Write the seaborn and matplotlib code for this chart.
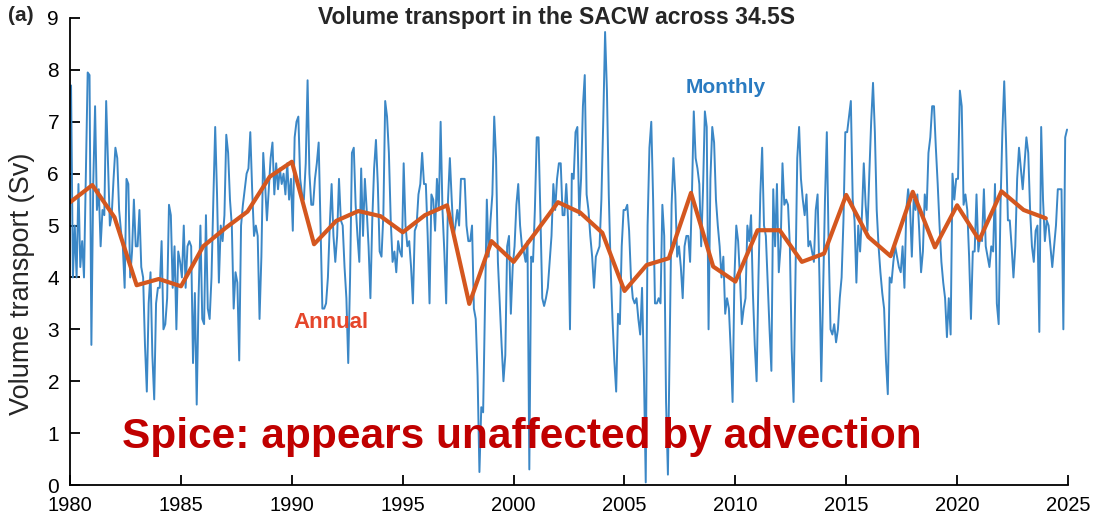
import numpy as np
import pandas as pd
import seaborn as sns
import matplotlib.pyplot as plt

# monthly volume transport (Sv), Jan..Dec for each year
monthly_1980s = [
    7.7, 4.0, 5.0, 4.0, 5.8, 4.2, 4.7, 4.0, 6.0, 7.95, 7.9, 2.7,
    5.8, 7.3, 5.3, 5.7, 4.6, 5.3, 5.2, 7.4, 6.2, 5.0, 5.2, 5.9,
    6.5, 6.3, 5.3, 4.9, 4.6, 3.8, 5.9, 5.8, 4.0, 4.5, 5.5, 4.6,
    4.6, 5.3, 4.2, 4.0, 2.7, 1.8, 3.5, 4.1, 2.5, 1.65, 3.5, 3.8,
    3.8, 4.7, 3.0, 3.1, 3.6, 5.4, 5.2, 3.8, 4.6, 3.0, 4.5, 4.3,
    4.0, 5.0, 3.8, 4.6, 4.7, 4.6, 2.35, 3.7, 1.55, 3.6, 5.0, 3.2,
    3.1, 5.2, 3.4, 3.2, 4.0, 5.5, 6.9, 5.6, 3.9, 5.0, 4.7, 5.2,
    6.75, 6.4, 5.5, 5.0, 3.4, 4.1, 3.9, 2.4, 5.0, 5.4, 5.7, 6.0,
    6.1, 6.8, 5.7, 4.8, 5.0, 4.8, 3.2, 4.4, 6.4, 5.8, 5.1, 5.7,
    6.3, 6.6, 5.6, 6.2, 5.7, 6.1, 5.8, 6.0, 5.6, 6.2, 5.5, 5.9,
]
monthly_1990s = [
    4.9, 6.7, 7.0, 7.1, 5.9, 5.6, 5.5, 6.2, 7.8, 6.0, 5.4, 5.4,
    5.9, 6.2, 6.6, 5.0, 3.4, 3.4, 3.5, 4.0, 5.0, 5.8, 4.8, 4.3,
    4.8, 5.9, 5.1, 5.0, 4.2, 3.6, 2.35, 4.0, 6.4, 6.5, 5.4, 4.8,
    4.3, 6.1, 4.8, 5.9, 5.3, 4.6, 3.6, 5.1, 6.1, 6.65, 5.8, 4.5,
    4.4, 5.2, 7.4, 7.1, 6.4, 5.1, 4.3, 4.5, 4.1, 4.7, 4.5, 4.4,
    6.2, 5.0, 4.6, 4.7, 4.2, 3.5, 4.9, 5.0, 5.6, 5.8, 6.4, 5.8,
    5.8, 4.8, 3.5, 5.6, 5.5, 4.9, 5.9, 5.3, 7.0, 5.3, 4.5, 3.5,
    5.5, 6.3, 5.5, 4.8, 5.0, 5.3, 5.0, 5.9, 5.9, 5.9, 5.0, 4.7,
    4.7, 5.0, 3.4, 3.2, 2.1, 0.25, 1.5, 1.4, 3.4, 5.5, 4.4, 5.1,
    5.6, 7.1, 6.3, 4.3, 3.5, 2.7, 2.0, 2.5, 4.6, 4.8, 3.3, 4.2,
]
monthly_2000s = [
    4.6, 5.4, 5.8, 5.0, 4.6, 4.5, 4.3, 4.7, 0.3, 4.4, 4.3, 5.3,
    6.7, 6.7, 5.2, 3.6, 3.45, 3.6, 3.8, 4.3, 4.8, 5.8, 5.3, 5.9,
    6.2, 6.2, 5.2, 5.2, 5.8, 5.1, 3.0, 6.0, 5.9, 6.8, 6.9, 5.2,
    5.9, 7.3, 7.9, 5.6, 5.3, 4.8, 4.4, 3.8, 4.4, 4.5, 4.6, 5.5,
    7.0, 8.73, 7.6, 5.6, 4.2, 3.2, 2.4, 1.8, 3.3, 3.1, 4.6, 5.3,
    5.3, 5.4, 4.9, 4.0, 3.6, 3.5, 3.6, 3.2, 2.9, 3.8, 2.2, 0.05,
    5.0, 6.5, 7.0, 5.5, 3.5, 3.5, 3.6, 3.5, 5.4, 4.8, 1.6, 0.2,
    2.8, 5.4, 6.3, 5.6, 4.4, 4.6, 4.2, 3.6, 4.6, 4.8, 4.8, 4.3,
    5.6, 7.2, 6.3, 6.1, 5.8, 4.6, 5.7, 7.2, 6.9, 3.0, 5.9, 6.9,
    6.6, 5.5, 5.0, 4.6, 4.0, 4.4, 3.3, 3.6, 3.4, 2.6, 1.6, 4.0,
]
monthly_2010s = [
    5.0, 4.7, 4.0, 3.1, 3.4, 3.6, 5.0, 4.7, 5.2, 3.7, 2.7, 2.0,
    4.0, 5.6, 6.5, 5.0, 4.8, 3.9, 3.0, 2.2, 5.7, 4.6, 5.8, 4.1,
    4.6, 6.2, 5.4, 5.5, 5.4, 4.6, 2.6, 1.6, 4.0, 6.3, 6.9, 5.9,
    5.5, 5.2, 5.6, 4.6, 4.7, 4.5, 4.3, 5.3, 5.6, 4.0, 2.0, 3.8,
    5.5, 6.8, 4.6, 3.0, 2.9, 3.1, 2.75, 3.0, 3.6, 4.0, 5.1, 6.8,
    6.8, 7.1, 7.4, 5.5, 5.1, 3.9, 5.0, 4.5, 5.2, 6.2, 5.4, 4.9,
    6.0, 7.0, 7.75, 6.8, 5.3, 4.6, 4.1, 3.7, 3.4, 2.4, 1.75, 4.0,
    3.9, 4.3, 4.6, 4.4, 4.2, 4.1, 4.6, 3.8, 5.3, 5.7, 5.4, 4.4,
    5.5, 5.3, 5.6, 4.9, 4.1, 4.5, 5.6, 5.3, 6.4, 6.7, 7.3, 7.3,
    6.5, 5.8, 5.0, 4.3, 3.9, 3.6, 2.85, 3.6, 2.9, 6.0, 5.5, 5.9,
]
monthly_2020s = [
    5.9, 7.6, 7.3, 5.4, 5.6, 5.3, 4.4, 3.2, 4.5, 4.5, 5.6, 4.5,
    4.8, 4.7, 5.7, 4.6, 4.4, 4.2, 4.6, 4.5, 5.8, 3.5, 3.1, 5.4,
    6.8, 7.78, 6.6, 5.1, 5.1, 4.6, 4.0, 4.6, 5.9, 6.5, 6.1, 5.7,
    6.2, 6.7, 6.4, 5.3, 4.6, 4.3, 4.9, 5.0, 2.95, 6.9, 5.5, 4.7,
    5.1, 5.0, 4.6, 4.2, 4.6, 5.0, 5.7, 5.7, 5.7, 3.0, 6.7, 6.85,
]

# annual means, 1980..2024
annual_years = list(range(1980, 2025))
annual_values = [
    5.45, 5.78, 5.16, 3.85, 3.97, 3.83, 4.60, 4.95, 5.27, 5.94,
    6.23, 4.64, 5.09, 5.28, 5.18, 4.87, 5.20, 5.39, 3.49, 4.70,
    4.30, 4.87, 5.45, 5.25, 4.86, 3.74, 4.24, 4.37, 5.63, 4.21,
    3.92, 4.91, 4.91, 4.30, 4.46, 5.59, 4.78, 4.41, 5.65, 4.58,
    5.39, 4.72, 5.66, 5.30, 5.14,
]

monthly_values = monthly_1980s + monthly_1990s + monthly_2000s + monthly_2010s + monthly_2020s
n = len(monthly_values)
monthly = pd.DataFrame({
    "time": 1980 + (np.arange(n) + 0.5) / 12,
    "sv": monthly_values,
})
annual = pd.DataFrame({"time": annual_years, "sv": annual_values})

sns.set_theme(style="ticks")
plt.rcParams["font.family"] = ["Liberation Sans", "DejaVu Sans"]

fig = plt.figure(figsize=(11.01, 5.2), dpi=100)
ax = fig.add_axes([0.0637, 0.0673, 0.9063, 0.8981])

sns.lineplot(data=monthly, x="time", y="sv", ax=ax, color="#3B87C6", linewidth=1.4)
sns.lineplot(data=annual, x="time", y="sv", ax=ax, color="#D4571F", linewidth=3.0)

ax.set_xlim(1980, 2025)
ax.set_ylim(0, 9)
ax.set_xticks(range(1980, 2026, 5))
ax.set_yticks(range(0, 10))
ax.tick_params(direction="in", length=7, width=1.3, colors="black", labelsize=15)
ax.tick_params(axis="y", pad=8)
ax.tick_params(axis="x", pad=8, labelsize=14.5)
for s in ["left", "bottom"]:
    ax.spines[s].set_linewidth(1.3)
    ax.spines[s].set_color("black")
sns.despine(ax=ax)

ax.set_xlabel("")
ax.set_ylabel("Volume transport (Sv)", fontsize=19.5)
ax.yaxis.set_label_coords(-0.035, 0.43)

ax.text(0.487, 1.0, "Volume transport in the SACW across 34.5S", transform=ax.transAxes,
        ha="center", va="center", fontsize=16.5, fontweight="bold")
fig.text(0.007, 0.97, "(a)", ha="left", va="center", fontsize=15, fontweight="bold")

ax.text(2009.58, 7.67, "Monthly", ha="center", va="center", fontsize=15,
        fontweight="bold", color="#2A7BC1")
ax.text(1991.77, 3.14, "Annual", ha="center", va="center", fontsize=16,
        fontweight="bold", color="#E5462B")
ax.text(1982.35, 0.92, "Spice: appears unaffected by advection", ha="left", va="center",
        fontsize=30.5, fontweight="bold", color="#C00000")

fig.savefig("out.png", dpi=100)
